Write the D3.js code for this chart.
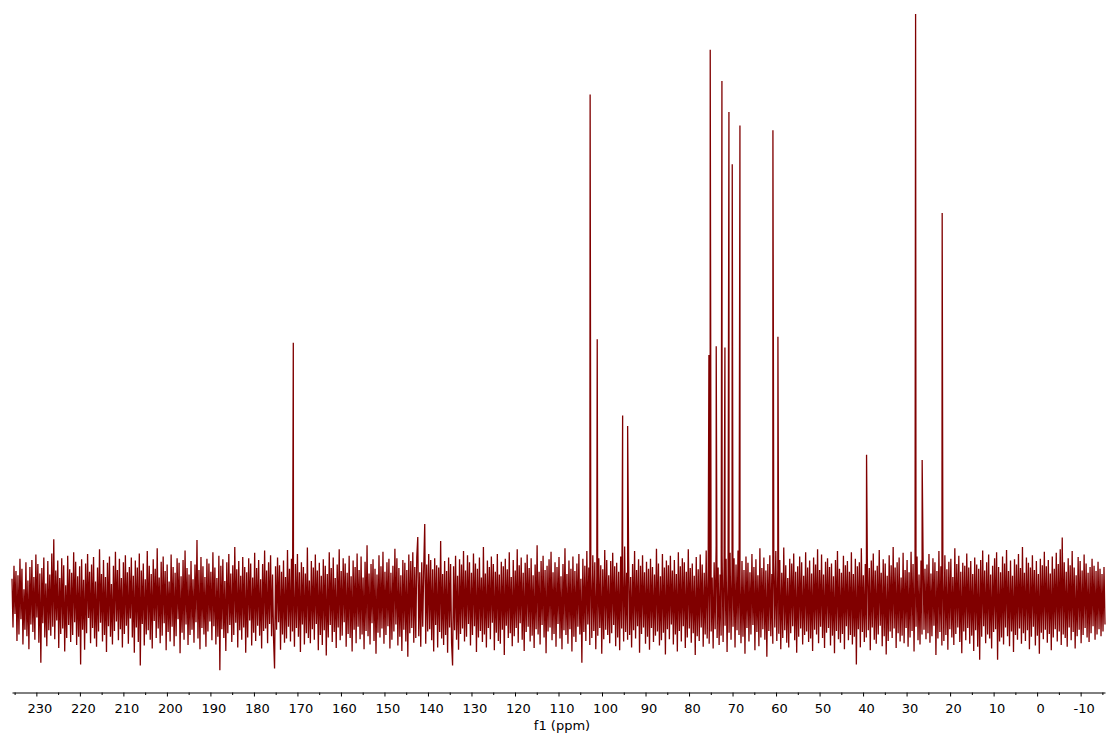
<!DOCTYPE html>
<html>
<head>
<meta charset="utf-8">
<title>13C NMR spectrum</title>
<script src="https://cdn.jsdelivr.net/npm/d3@7"></script>
<style>
  html, body { margin: 0; padding: 0; background: #ffffff; }
  svg { display: block; }
  .axis text { font-family: "DejaVu Sans", Verdana, sans-serif; font-size: 13px; fill: #000; }
  .axis path, .axis line { stroke: #000; }
</style>
</head>
<body>
<svg id="chart" width="1110" height="738"></svg>
<script>
// Spectral window (ppm), left to right
const ppmStart = 235.6;
const ppmEnd = -15.6;

// Resolved carbon signals: chemical shift (ppm) and peak intensity (tallest = 1000)
const peakShifts  = [170.95, 102.73, 101.1, 95.26, 94.11, 75.43, 75.13, 73.75, 72.44, 71.75,
                     70.83, 70.07, 68.3, 60.72, 59.57, 39.2, 27.93, 26.42, 21.82];
const peakHeights = [440, 863, 446, 316, 298, 419, 939, 434, 886, 432,
                     833, 744, 810, 802, 450, 249, 1000, 240, 661];

// Baseline noise samples across the window (same intensity units)
const noiseBaseline = [
  38,-45,60,-22,51,-68,44,-57,72,-31,55,-74,20,-49,66,-60,35,-82,58,-40,
  70,-53,41,-66,79,-28,63,-71,47,-105,56,-38,74,-62,30,-77,68,-50,45,-59,
  81,-44,105,-65,52,-33,69,-80,39,-56,73,-47,61,-86,27,-63,77,-41,54,-70,
  48,-58,83,-36,67,-75,42,-61,59,-108,71,-49,36,-83,64,-55,80,-29,50,-72,
  62,-46,75,-64,33,-78,57,-52,88,-37,46,-69,70,-58,41,-87,65,-43,76,-61,
  29,-74,60,-51,84,-35,53,-67,72,-48,39,-79,66,-56,78,-42,49,-73,58,-30,
  74,-62,43,-88,69,-45,57,-70,81,-110,52,-39,64,-76,37,-57,85,-50,60,-66,
  46,-81,71,-34,55,-63,90,-47,40,-72,67,-59,76,-38,51,-84,62,-53,33,-69,
  79,-44,58,-77,48,-60,73,-31,65,-89,42,-54,70,-66,86,-40,56,-75,45,-58,
  68,-49,37,-71,62,-36,104,-64,53,-82,75,-46,59,-57,41,-78,72,-52,64,-35,
  50,-67,83,-43,57,-74,39,-61,77,-118,60,-48,71,-63,34,-85,66,-55,80,-41,
  47,-70,61,-58,92,-37,54,-79,68,-50,43,-66,75,-45,58,-88,49,-62,73,-33,
  64,-76,40,-54,82,-68,56,-42,70,-59,37,-81,63,-51,86,-47,52,-72,66,-39,
  78,-60,45,-65,-115,59,-49,74,-36,61,-83,50,-57,69,-71,41,-64,87,-44,55,
  -69,72,-52,38,-78,63,-46,80,-61,49,-87,66,-40,58,-74,47,-55,91,-63,35,
  -72,68,-48,57,-66,79,-39,52,-84,65,-58,43,-75,71,-50,60,-93,46,-62,83,
  -41,56,-70,74,-53,39,-80,62,-45,88,-67,51,-59,73,-36,64,-78,48,-56,77,
  -63,42,-86,69,-49,58,-72,81,-44,53,-65,76,-57,40,-82,67,-51,95,-60,47,
  -74,63,-38,71,-68,55,-90,45,-54,78,-62,59,-47,84,-73,50,-58,66,-43,72,
  -81,48,-66,60,-52,89,-40,73,-76,56,-61,44,-85,70,-49,65,-69,53,-95,79,
  -55,68,-46,83,-71,58,-63,75,109,-60,49,-78,66,-44,57,131,-73,62,-52,80,
  -48,70,-67,54,-86,73,-41,61,-79,57,-53,102,-64,46,-75,68,-58,51,-88,74,
  -45,63,-72,-110,59,-50,77,-66,43,-83,71,-56,62,-47,85,-69,52,-61,78,-39,
  66,-76,48,-58,81,-43,64,-87,55,-62,74,-51,40,-70,92,-57,47,-79,69,-46,
  58,-65,76,-37,63,-84,50,-54,80,-68,45,-73,67,-49,59,-92,72,-42,54,-63,
  83,-55,41,-77,70,-60,52,-46,88,-71,61,-38,74,-66,48,-85,65,-53,79,-44,
  56,-69,73,-59,44,-80,62,-48,95,-57,50,-74,68,-41,77,-62,53,-89,60,-52,
  71,-45,84,-67,49,-56,66,-78,58,-39,75,-64,42,-82,63,-50,90,-58,46,-73,
  69,-48,55,-86,76,-61,51,-70,64,-44,80,-57,38,-105,72,-53,60,-68,85,-40,
  57,-75,47,-63,78,-51,66,-82,43,-59,73,-46,61,-90,54,-65,87,-49,70,-58,
  44,-72,68,-55,82,-41,59,-77,65,-62,50,-84,76,-47,56,-69,93,-53,48,-66,
  74,-58,41,-79,63,-50,85,-64,53,-43,71,-88,60,-56,78,-45,49,-73,67,-61,
  55,-83,72,-46,58,-70,45,-59,89,-52,64,-76,42,-67,80,-54,57,-91,69,-48,
  61,-65,77,-40,52,-74,70,-57,46,-86,83,-51,59,-69,73,-43,66,-80,50,-62,
  88,-47,56,-71,64,-55,43,-92,75,-60,54,-68,79,-45,62,-78,48,-57,86,-64,
  51,-73,69,-52,40,-81,66,-48,94,-63,57,-75,45,-59,77,-70,60,-42,72,-87,
  47,-54,82,-66,55,-44,73,-79,62,-50,86,-58,41,-72,68,-61,53,-90,76,-46,
  65,-69,49,-57,80,-41,58,-84,71,-53,44,-77,90,-62,56,-48,74,-66,52,-95,
  63,-51,78,-60,46,-73,67,-45,85,-68,54,-56,70,-82,48,-63,91,-50,61,-71,
  39,-79,72,-55,64,-43,81,-67,50,-88,59,-61,76,-47,66,-74,43,-58,83,-52,
  57,-70,69,-64,47,-85,74,-49,62,-57,88,-72,53,-44,79,-63,45,-80,67,-54,
  73,-46,58,-76,64,-59,42,-89,70,-51,85,-65,55,-71,48,-56,77,-82,61,-43,
  68,-67,50,-58,83,-74,46,-61,72,-108,59,-48,66,-79,90,-53,44,-70,63,-62,
  75,-50,56,-84,69,-45,81,-66,52,-73,60,-57,87,-42,48,-77,71,-60,64,-91,
  43,-68,78,-52,61,-63,92,-47,57,-80,66,-55,74,-69,40,-59,82,-72,53,-46,
  70,-78,49,-62,84,-51,63,-86,58,-44,76,-67,45,-74,69,-57,88,-49,55,-65,
  62,-55,80,-71,47,-60,73,-42,66,-92,51,-64,85,-53,59,-76,44,-68,78,-58,
  54,-83,67,-48,72,-62,41,-75,90,-56,63,-45,77,-70,50,-89,65,-52,60,-67,
  81,-46,57,-73,68,-59,46,-85,74,-50,62,-78,55,-100,70,-61,86,-43,52,-72,
  66,-57,79,-64,45,-81,60,-53,73,-48,83,-100,58,-69,49,-62,76,-74,64,-45,
  87,-60,51,-77,69,-52,43,-87,71,-58,62,-66,80,-47,56,-73,92,-55,48,-68,
  74,-50,65,-82,57,-61,78,-44,53,-76,68,-59,46,-90,72,-54,61,-65,84,-49,
  59,-71,70,-56,47,-84,76,-62,55,-48,82,-69,63,-52,88,-75,108,-57,66,-63,
  50,-78,73,-45,61,-67,85,-53,57,-81,44,-60,75,-49,68,-72,52,-58,79,-46,
  64,-62,48,-70,58,-55,72,-43,60,-66,51,-57,67,-48,55,-60,46,-52,58,-40
];

// Axis tick labels (major every 10 ppm) and minor tick positions
const majorTicks = [230, 220, 210, 200, 190, 180, 170, 160, 150, 140, 130, 120, 110,
                    100, 90, 80, 70, 60, 50, 40, 30, 20, 10, 0, -10];
const minorTicks = [235, 225, 215, 205, 195, 185, 175, 165, 155, 145, 135, 125, 115,
                    105, 95, 85, 75, 65, 55, 45, 35, 25, 15, 5, -5, -15];
const axisTitle = "f1 (ppm)";

const svg = d3.select("#chart");

const x = d3.scaleLinear().domain([ppmStart, ppmEnd]).range([12, 1105]);
const y = d3.scaleLinear().domain([0, 1000]).range([601, 14]);

// Build the trace: noise on the digitisation grid plus the resolved signals
const step = (ppmStart - ppmEnd) / (noiseBaseline.length - 1);
const trace = noiseBaseline.map((v, i) => ({ ppm: ppmStart - i * step, v }));
peakShifts.forEach((p, i) => trace.push({ ppm: p, v: peakHeights[i] }));
trace.sort((a, b) => b.ppm - a.ppm);

const line = d3.line().x(d => x(d.ppm)).y(d => y(d.v));

svg.append("path")
  .datum(trace)
  .attr("d", line)
  .attr("fill", "none")
  .attr("stroke", "#800000")
  .attr("stroke-width", 1.3)
  .attr("stroke-linejoin", "miter");

// Chemical shift axis
const axisY = 692.5;
svg.append("g")
  .attr("class", "axis")
  .attr("transform", `translate(0,${axisY})`)
  .call(d3.axisBottom(x)
    .tickValues(majorTicks)
    .tickFormat(d => String(d))
    .tickSize(4)
    .tickSizeOuter(0)
    .tickPadding(7))
  .selectAll(".tick text")
  .attr("dx", 3);

svg.append("g")
  .attr("class", "axis")
  .attr("transform", `translate(0,${axisY})`)
  .call(d3.axisBottom(x)
    .tickValues(minorTicks)
    .tickFormat("")
    .tickSize(2.5)
    .tickSizeOuter(0))
  .select(".domain").remove();

svg.append("text")
  .attr("x", 562)
  .attr("y", 730)
  .attr("text-anchor", "middle")
  .style("font-family", '"DejaVu Sans", Verdana, sans-serif')
  .style("font-size", "13px")
  .text(axisTitle);
</script>
</body>
</html>
